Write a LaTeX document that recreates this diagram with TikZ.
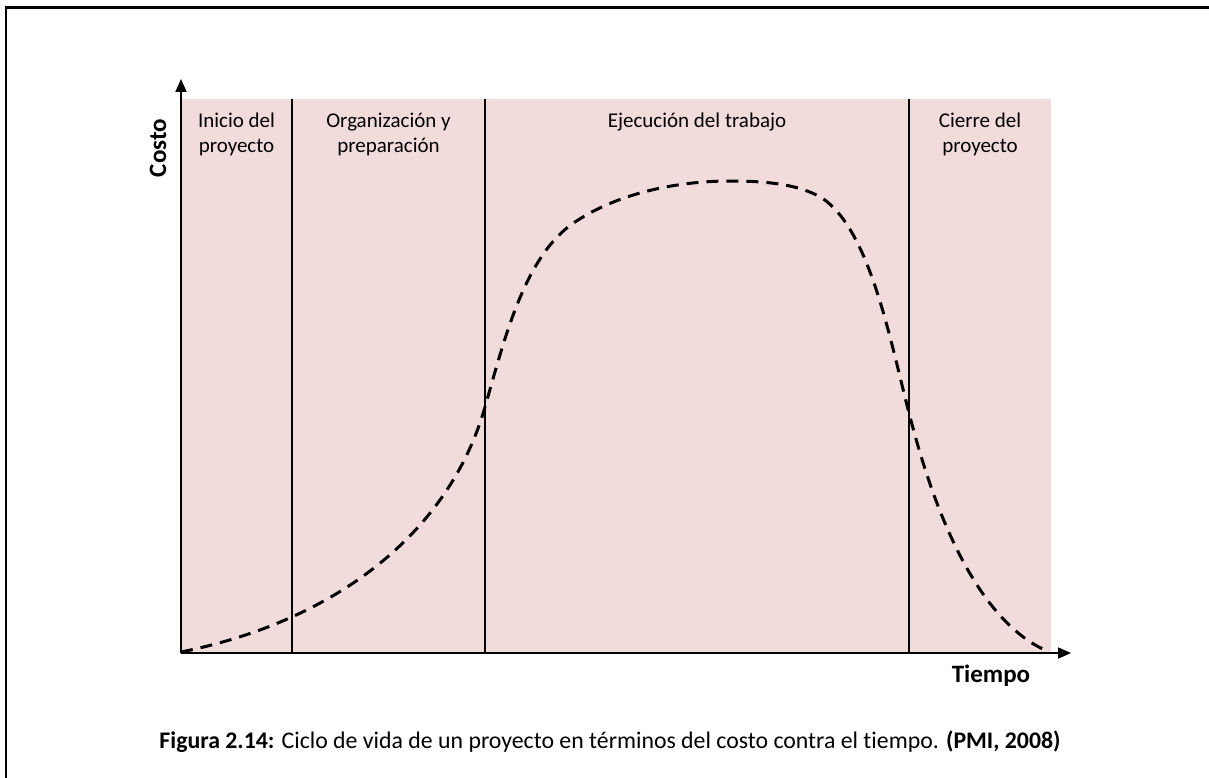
\documentclass[tikz,border=0pt]{standalone}
\usepackage{fontspec}
\setmainfont[Ligatures=NoCommon]{Carlito}
\usetikzlibrary{arrows.meta}
\definecolor{phasefill}{RGB}{242,220,219}
\tikzset{
  frameline/.style={line width=2.2pt},
  axisline/.style={line width=1.8pt,-{Triangle[length=13pt,width=11pt]}},
  divider/.style={line width=1.5pt},
  costcurve/.style={line width=3pt,dash pattern=on 12pt off 8pt},
  phaselabel/.style={anchor=north,align=center,inner sep=0pt,font=\fontsize{21}{25}\selectfont},
  axislabel/.style={inner sep=0pt,font=\bfseries\fontsize{25}{29}\selectfont},
  caption/.style={inner sep=0pt,font=\fontsize{23.8}{28}\selectfont}
}
\begin{document}
\begin{tikzpicture}[x=1pt,y=-1pt]
\useasboundingbox (0,0) rectangle (1209,778);
% frame
\draw[frameline] (6,778) -- (6,7.5) -- (1209,7.5);
% phase band
\fill[phasefill] (181,99) rectangle (1051,653);
% coordinates
\coordinate (O) at (181,653);
\coordinate (ytop) at (181,79);
\coordinate (xend) at (1071,653);
\coordinate (d1t) at (292,99);  \coordinate (d1b) at (292,653);
\coordinate (d2t) at (485,99);  \coordinate (d2b) at (485,653);
\coordinate (d3t) at (909,99);  \coordinate (d3b) at (909,653);
% dividers
\draw[divider] (d1t) -- (d1b);
\draw[divider] (d2t) -- (d2b);
\draw[divider] (d3t) -- (d3b);
% curve
\draw[costcurve] (181,652) .. controls (340,620) and (450,530) .. (485,407)
  .. controls (505,337) and (525,255) .. (575,222)
  .. controls (620,192) and (680,181) .. (730,181)
  .. controls (770,181) and (800,185) .. (822,198)
  .. controls (870,230) and (890,340) .. (909,413)
  .. controls (925,475) and (965,615) .. (1047,651);
% axes
\draw[axisline] (O) -- (ytop);
\draw[axisline] (O) -- (xend);
% labels
\node[phaselabel] (inicio) at (236.5,113) {Inicio del\\proyecto};
\node[phaselabel] (organiz) at (388.5,113) {Organización y\\preparación};
\node[phaselabel] (ejec) at (697,113) {Ejecución del trabajo};
\node[phaselabel] (cierre) at (980,113) {Cierre del\\proyecto};
\node[axislabel,rotate=90] (costo) at (158,148) {Costo};
\node[axislabel] (tiempo) at (991,676) {Tiempo};
\node[caption] (cap) at (610,742) {\textbf{Figura 2.14:} Ciclo de vida de un proyecto en términos del costo contra el tiempo. \textbf{(PMI, 2008)}};
\end{tikzpicture}
\end{document}
